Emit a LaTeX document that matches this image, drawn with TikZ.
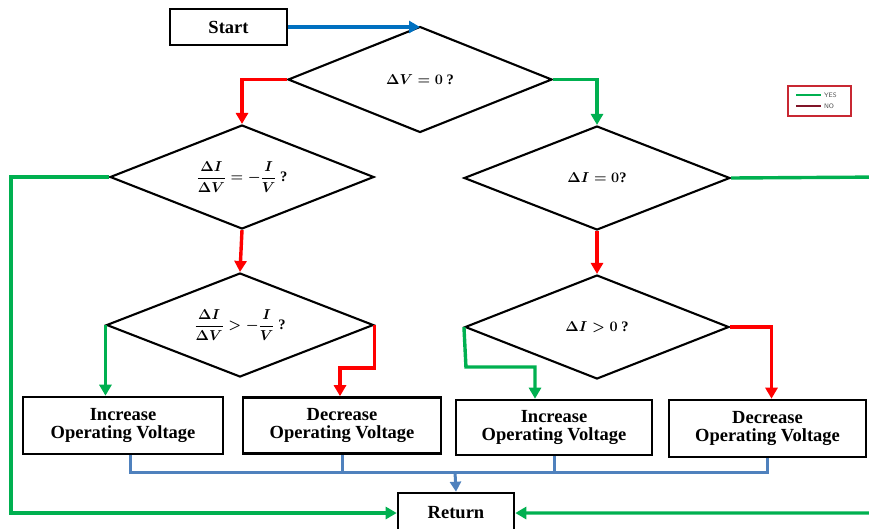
\documentclass[tikz,border=0pt]{standalone}
\usepackage[no-math]{fontspec}
\setmainfont{Liberation Serif}
\usetikzlibrary{shapes.geometric,arrows.meta,calc}
\definecolor{cgreen}{RGB}{0,176,80}
\definecolor{cred}{RGB}{255,0,0}
\definecolor{cblue}{RGB}{0,112,192}
\definecolor{cbus}{RGB}{79,129,189}
\definecolor{clegend}{RGB}{200,40,50}
\definecolor{cmaroon}{RGB}{128,20,40}
\begin{document}
\begin{tikzpicture}[x=1pt,y=-1pt,
  decision/.style={draw=black,line width=2.1pt,shape=diamond,inner sep=0pt,aspect=2.5,
    font=\fontsize{14.5}{17}\selectfont\bfseries\boldmath},
  procbox/.style={draw=black,line width=2.6pt,rectangle,inner sep=0pt,align=center,
    font=\fontsize{18.5}{18.5}\selectfont\bfseries},
  conn/.style={line width=3.4pt,-{Triangle[length=11pt,width=12pt]}},
  yes/.style={conn,draw=cgreen,color=cgreen},
  no/.style={conn,draw=cred,color=cred},
  bus/.style={line width=3pt,draw=cbus}
]
\useasboundingbox (0,0) rectangle (869,528);
\clip (0,0) rectangle (869,528);

% nodes
\node[procbox,minimum width=117pt,minimum height=36pt] (start) at (228.5,27) {Start};
\node[decision,minimum width=264pt,minimum height=106pt] (d1) at (420,79.5) {$\Delta V = 0$ ?};
\node[decision,minimum width=264pt,minimum height=104pt] (d2) at (242,177) {$\displaystyle\frac{\Delta I}{\Delta V} = -\frac{I}{V}$ ?};
\node[decision,minimum width=267pt,minimum height=104pt] (d3) at (240,325) {$\displaystyle\frac{\Delta I}{\Delta V} > -\frac{I}{V}$ ?};
\node[decision,minimum width=266pt,minimum height=104pt] (d4) at (597,178) {$\Delta I = 0$?};
\node[decision,minimum width=264pt,minimum height=104pt] (d5) at (597,327) {$\Delta I > 0$ ?};

\node[procbox,minimum width=200pt,minimum height=57pt] (b1) at (123,425.5) {Increase\\Operating Voltage};
\node[procbox,minimum width=198pt,minimum height=56pt] (b2) at (342,425.5) {Decrease\\Operating Voltage};
\node[procbox,minimum width=196pt,minimum height=55pt] (b3) at (554,427.5) {Increase\\Operating Voltage};
\node[procbox,minimum width=197pt,minimum height=57pt] (b4) at (767.5,428.5) {Decrease\\Operating Voltage};
\node[procbox,minimum width=116pt,minimum height=40pt] (ret) at (456,513) {Return};

% connectors
\draw[conn,draw=cblue,color=cblue] (start.east) -- (start.east -| d1.north);
\draw[no] (d1.west) -| (d2.north);
\draw[yes] (d1.east) -| (d4.north);
\draw[no] (d2.south) -- (d3.north);
\draw[no] (d4.south) -- (d5.north);

\draw[yes] (d2.west) -- ++(-98,0) |- (ret.west);
\coordinate (rr) at (885,177);
\draw[yes] (d4.east) -- (rr) |- (ret.east);

\draw[yes] (d3.west) -- (d3.west |- b1.north);
\draw[no] (d3.east) -- ++(0,43) -| ([xshift=-2pt]b2.north);
\draw[yes] (d5.west) -- ++(2,40) -| ([xshift=-19pt]b3.north);
\draw[no] (d5.east) -| ([xshift=4pt]b4.north);

\coordinate (busc) at (455,472);
\draw[bus] ([xshift=7pt]b1.south) |- (busc);
\draw[bus] (b2.south) |- (busc);
\draw[bus] (b3.south) |- (busc);
\draw[bus] (b4.south) |- (busc);
\draw[bus,-{Triangle[length=10pt,width=11pt]},color=cbus] (busc) -- (ret.north);

% legend
\node[draw=clegend,line width=1.6pt,minimum width=63pt,minimum height=30pt,inner sep=0pt] (legend) at (819.5,101) {};
\coordinate (ly1) at (796,95);
\coordinate (ly2) at (796,106);
\draw[cgreen,line width=2pt] (ly1) -- ++(25,0) node[anchor=west,text=black!70,font=\fontsize{6.5}{6.5}\sffamily,inner sep=2pt] (lyes) {YES};
\draw[cmaroon,line width=2pt] (ly2) -- ++(25,0) node[anchor=west,text=black!70,font=\fontsize{6.5}{6.5}\sffamily,inner sep=2pt] (lno) {NO};
\end{tikzpicture}
\end{document}
